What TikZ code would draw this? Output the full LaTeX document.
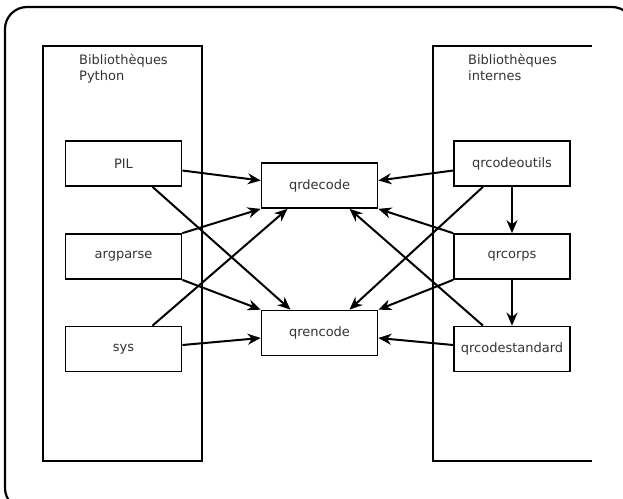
\documentclass[tikz,border=0pt]{standalone}
\usepackage{fontspec}
\setmainfont{DejaVu Sans}
\usetikzlibrary{arrows.meta}
\begin{document}
\begin{tikzpicture}[x=1pt,y=-1pt,
  mod/.style={draw, line width=1.7pt, minimum width=116pt, minimum height=45pt, inner sep=0pt,
    font=\fontsize{13}{15}\selectfont, text=black!80},
  title/.style={anchor=north west, align=left, inner sep=0pt,
    font=\fontsize{13}{16}\selectfont, text=black!80},
  arr/.style={line width=2pt, -{Stealth[length=13pt,width=11pt]}},
  cont/.style={line width=1.7pt}]
\useasboundingbox (0,0) rectangle (623,498);
\begin{scope}
\clip (0,0) rectangle (623,498);
\draw[line width=2.2pt, rounded corners=22pt] (5,7) rectangle (634,510);
\end{scope}
% containers
\draw[cont] (43,46) rectangle (202,461);
\draw[cont] (592,46) -- (433,46) -- (433,461) -- (592,461);
\node[title] (tl) at (79,54) {Bibliothèques\\Python};
\node[title] (tr) at (468,54) {Bibliothèques\\internes};
% modules
\node[mod] (pil) at (123.5,163.5) {PIL};
\node[mod] (arg) at (123.5,256.5) {argparse};
\node[mod] (sys) at (123.5,349) {sys};
\node[mod] (dec) at (319.5,185.5) {qrdecode};
\node[mod] (enc) at (319.5,333) {qrencode};
\node[mod] (out) at (512,163.5) {qrcodeoutils};
\node[mod] (cor) at (512,256.5) {qrcorps};
\node[mod] (std) at (512,349) {qrcodestandard};
% left connectors
\draw[arr] ([yshift=-7pt]pil.east) -- ([yshift=5pt]dec.west);
\draw[arr] ([xshift=29pt]pil.south) -- ([xshift=-29pt]enc.north);
\draw[arr] (arg.north east) -- (dec.south west);
\draw[arr] (arg.south east) -- (enc.north west);
\draw[arr] ([xshift=29pt]sys.north) -- ([xshift=-32pt]dec.south);
\draw[arr] ([yshift=4pt]sys.east) -- ([yshift=-5pt]enc.west);
% right connectors
\draw[arr] ([yshift=-7pt]out.west) -- ([yshift=5pt]dec.east);
\draw[arr] ([xshift=-29pt]out.south) -- ([xshift=30pt]enc.north);
\draw[arr] (cor.north west) -- (dec.south east);
\draw[arr] (cor.south west) -- (enc.north east);
\draw[arr] ([xshift=-29pt]std.north) -- ([xshift=30pt]dec.south);
\draw[arr] ([yshift=4pt]std.west) -- ([yshift=-5pt]enc.east);
\draw[arr] (out.south) -- (cor.north);
\draw[arr] (cor.south) -- (std.north);
\end{tikzpicture}
\end{document}
